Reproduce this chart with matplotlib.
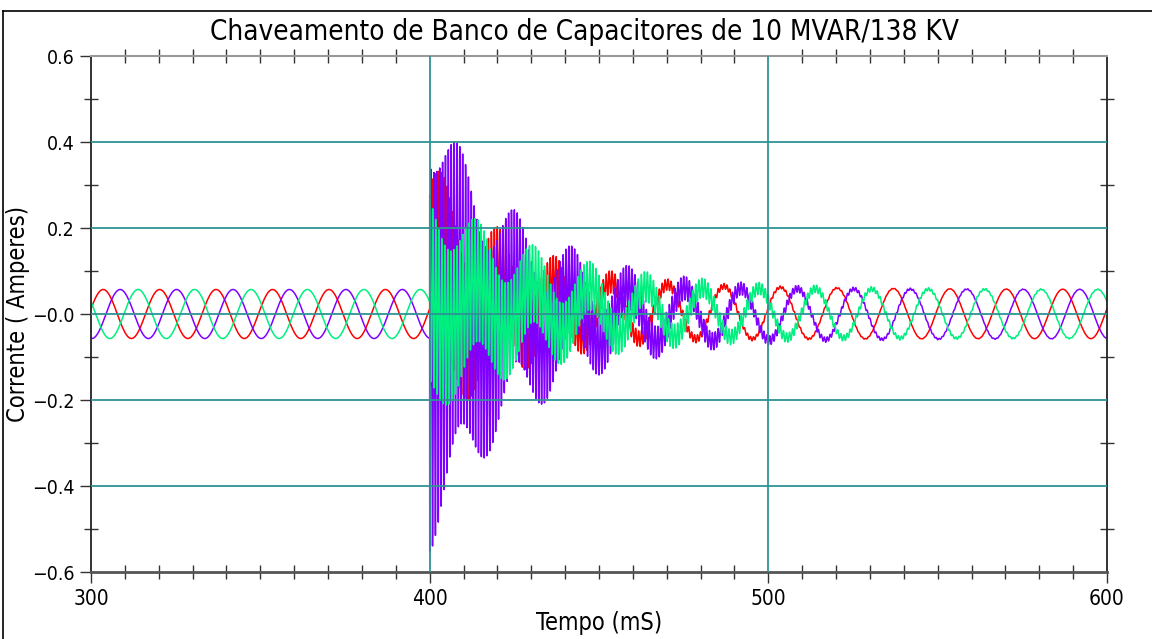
import numpy as np
import matplotlib
matplotlib.use('Agg')
import matplotlib.pyplot as plt
from matplotlib.lines import Line2D
from matplotlib.ticker import MultipleLocator

plt.rcParams['font.family'] = ['DejaVu Sans']
plt.rcParams['font.stretch'] = 'condensed'
plt.rcParams['font.weight'] = 'light'

# leitura do grafico (ms, A)
t_start, t_end = 300.0, 600.0
t_switch = 400.0
freq_hz = 60.0
amp_ss = 0.057
colors = ['#ff0000', '#8000ff', '#00f080']
peak_ms = [303.6, 308.6, 313.9]          # pico de cada fase antes do chaveamento
amp_extra = [0.03, 0.03, 0.0]            # aumento da fundamental logo apos 400 ms
dc_offset = [0.04, -0.02, 0.03]
dc_tau = [35.0, 35.0, 40.0]
hf_amp = [0.24, 0.45, 0.21]              # oscilacao de alta frequencia
hf_tau = [24.0, 27.0, 36.0]
hf_freq = [1150.0, 1180.0, 1120.0]
hf_phase = [0.3, np.pi, 0.0]

grid_x = [400, 500]
grid_y = [-0.4, -0.2, 0.0, 0.2, 0.4]
yticks = [-0.6, -0.4, -0.2, 0.0, 0.2, 0.4, 0.6]
ytick_labels = ['\u22120.6', '\u22120.4', '\u22120.2', '\u22120.0', '0.2', '0.4', '0.6']
xticks = [300, 400, 500, 600]

t = np.arange(t_start, t_end + 0.01, 0.02)


def fase(k):
    w = 2 * np.pi * freq_hz / 1000.0
    after = t >= t_switch
    dt = np.where(after, t - t_switch, 0.0)
    amp = amp_ss + np.where(after, amp_extra[k] * np.exp(-dt / 45.0), 0.0)
    i = amp * np.cos(w * (t - peak_ms[k]))
    i += np.where(after, dc_offset[k] * np.exp(-dt / dc_tau[k]), 0.0)
    hf = hf_amp[k] * np.exp(-dt / hf_tau[k]) * np.cos(2 * np.pi * hf_freq[k] * dt / 1000.0 + hf_phase[k])
    i += np.where(after, hf, 0.0)
    return i


fig = plt.figure(figsize=(11.52, 6.39), dpi=100)
ax = fig.add_axes([91 / 1152, 1 - 572 / 639, (1107 - 91) / 1152, (572 - 56) / 639])

for k in range(3):
    ax.plot(t, fase(k), color=colors[k], lw=1.1, zorder=2)

for gx in grid_x:
    ax.axvline(gx, color='#2e9494', lw=1.3, zorder=3)
for gy in grid_y:
    ax.axhline(gy, color='#2e9494', lw=1.3, zorder=3)

ax.set_xlim(t_start, t_end)
ax.set_ylim(-0.6, 0.6)
ax.set_xticks(xticks)
ax.set_yticks(yticks)
ax.set_yticklabels(ytick_labels)
ax.xaxis.set_minor_locator(MultipleLocator(10))
ax.yaxis.set_minor_locator(MultipleLocator(0.1))
ax.tick_params(which='major', direction='out', length=8, width=1, labelsize=14, color='#333333')
ax.tick_params(which='minor', direction='inout', length=10, width=1, top=True, right=True, color='#333333')
ax.tick_params(axis='x', pad=4, labelsize=15)

for s in ['left', 'bottom', 'right']:
    ax.spines[s].set_linewidth(1.3)
    ax.spines[s].set_color('#222222')
ax.spines['top'].set_color('#999999')
ax.spines['top'].set_linewidth(1.5)
ax.spines['bottom'].set_color('#555555')
ax.spines['bottom'].set_linewidth(2)

ax.set_xlabel('Tempo (mS)', fontsize=17, labelpad=2)
ax.set_ylabel('Corrente ( Amperes)', fontsize=17)
ax.yaxis.set_label_coords(-0.06, 0.5)
fig.text(585 / 1152, 1 - 32 / 639, 'Chaveamento de Banco de Capacitores de 10 MVAR/138 KV',
         fontsize=20, ha='center', va='center')

# moldura
fig.add_artist(Line2D([3 / 1152, 3 / 1152], [0, 1 - 11 / 639], color='black', lw=1.2))
fig.add_artist(Line2D([3 / 1152, 1], [1 - 11 / 639, 1 - 11 / 639], color='black', lw=1.2))

fig.savefig('out.png', dpi=100)
